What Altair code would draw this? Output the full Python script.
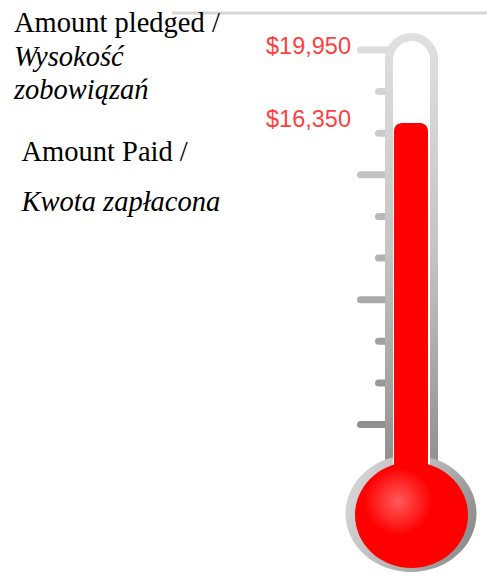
import altair as alt
import pandas as pd

# ---- data ----
pledged = 19950
paid = 16350
label_values = [pledged, paid]
tick_values = [19950, 17900, 15850, 13800, 11750, 9700, 7650, 5600, 3550, 1500]
tick_major = [True, False, False, True, False, False, True, False, False, True]
title_pledged = ["Amount pledged /", "Wysokość", "zobowiązań"]
title_paid = ["Amount Paid /", "Kwota zapłacona"]

# ---- tables ----
ticks_df = pd.DataFrame({"v": tick_values, "major": tick_major})
labels_df = pd.DataFrame({"v": label_values})
paid_df = pd.DataFrame({"v": [paid]})
one = pd.DataFrame({"d": [0]})

W, H = 487, 574
# dollar scale: 0 at the bulb neck, pledged at the top tick
yscale = alt.Scale(domain=[-5862, 22413], range=[H, 0], nice=False, zero=False)

def ellipse(ry):
    k = 0.5523
    return (f"M -1 0 C -1 {-k*ry} {-k} {-ry} 0 {-ry} C {k} {-ry} 1 {-k*ry} 1 0 "
            f"C 1 {k*ry} {k} {ry} 0 {ry} C {-k} {ry} -1 {k*ry} -1 0 Z")

gray_v = alt.LinearGradient(gradient="linear",
    stops=[alt.GradientStop(color="#e0e0e0", offset=0),
           alt.GradientStop(color="#c4c4c4", offset=0.5),
           alt.GradientStop(color="#8e8e8e", offset=1)],
    x1=0, x2=0, y1=0, y2=1)
gray_bulb = alt.LinearGradient(gradient="linear",
    stops=[alt.GradientStop(color="#d6d6d6", offset=0),
           alt.GradientStop(color="#b0b0b0", offset=0.6),
           alt.GradientStop(color="#8a8a8a", offset=1)],
    x1=0, x2=1, y1=0.3, y2=0.7)
red_glow = alt.RadialGradient(gradient="radial",
    stops=[alt.GradientStop(color="#ff5a5a", offset=0),
           alt.GradientStop(color="#ff2a2a", offset=0.55),
           alt.GradientStop(color="#ff0000", offset=1)],
    x1=0.38, y1=0.38, r1=0, x2=0.38, y2=0.38, r2=0.3)

top_line = alt.Chart(one).mark_rule(color="#d6d6d6", strokeWidth=3).encode(
    x=alt.value(172), x2=alt.value(W), y=alt.value(13))

tick_color = alt.Color("v:Q", scale=alt.Scale(domain=[0, pledged], range=["#8a8a8a", "#dcdcdc"]), legend=None)
ticks_major = alt.Chart(ticks_df).transform_filter("datum.major").mark_rule(
    strokeWidth=7, strokeCap="round").encode(
    x=alt.value(360.5), x2=alt.value(392),
    y=alt.Y("v:Q", scale=yscale, axis=None), color=tick_color)
ticks_minor = alt.Chart(ticks_df).transform_filter("!datum.major").mark_rule(
    strokeWidth=7, strokeCap="round").encode(
    x=alt.value(378.5), x2=alt.value(392),
    y=alt.Y("v:Q", scale=yscale, axis=None), color=tick_color)

outer_tube = alt.Chart(one).mark_rect(
    color=gray_v, cornerRadiusTopLeft=26.5, cornerRadiusTopRight=26.5).encode(
    x=alt.value(385), x2=alt.value(438), y=alt.value(33), y2=alt.value(472))
outer_bulb = alt.Chart(one).mark_point(
    shape=ellipse(0.893), size=131 * 131, filled=True, fill=gray_bulb,
    opacity=1, strokeWidth=0).encode(x=alt.value(411), y=alt.value(513.5))
inner_tube = alt.Chart(one).mark_rect(
    color="white", cornerRadiusTopLeft=18.5, cornerRadiusTopRight=18.5).encode(
    x=alt.value(393), x2=alt.value(430), y=alt.value(41), y2=alt.value(468))
red_tube = alt.Chart(paid_df).mark_rect(
    color="#ff0000", cornerRadiusTopLeft=8, cornerRadiusTopRight=8).encode(
    x=alt.value(394), x2=alt.value(428),
    y=alt.Y("v:Q", scale=yscale, axis=None), y2=alt.value(500))
red_bulb = alt.Chart(one).mark_point(
    shape=ellipse(0.938), size=113 * 113, filled=True, fill=red_glow,
    opacity=1, strokeWidth=0).encode(x=alt.value(411.5), y=alt.value(515))

labels = alt.Chart(labels_df).mark_text(
    align="right", baseline="middle", font="Liberation Sans", fontSize=23.5,
    color="#ff4040", dy=-3).encode(
    x=alt.value(351), y=alt.Y("v:Q", scale=yscale, axis=None),
    text=alt.Text("v:Q", format="$,.0f"))

def line(txt, x, y, italic):
    return alt.Chart(one).mark_text(
        text=txt, align="left", baseline="alphabetic", font="Liberation Serif",
        fontSize=28.5, fontStyle="italic" if italic else "normal",
        color="black").encode(x=alt.value(x), y=alt.value(y))

texts = [
    line(title_pledged[0], 14, 31.5, False),
    line(title_pledged[1], 14, 65.5, True),
    line(title_pledged[2], 14, 98.5, True),
    line(title_paid[0], 21.5, 161, False),
    line(title_paid[1], 21.5, 211, True),
]

chart = alt.layer(
    top_line, ticks_major, ticks_minor, outer_tube, outer_bulb, inner_tube,
    red_tube, red_bulb, labels, *texts
).properties(
    width=W, height=H, padding=0,
    autosize=alt.AutoSizeParams(type="none"),
).configure_view(stroke=None)

chart.save("out.html", embed_options={"renderer": "svg", "actions": False})
